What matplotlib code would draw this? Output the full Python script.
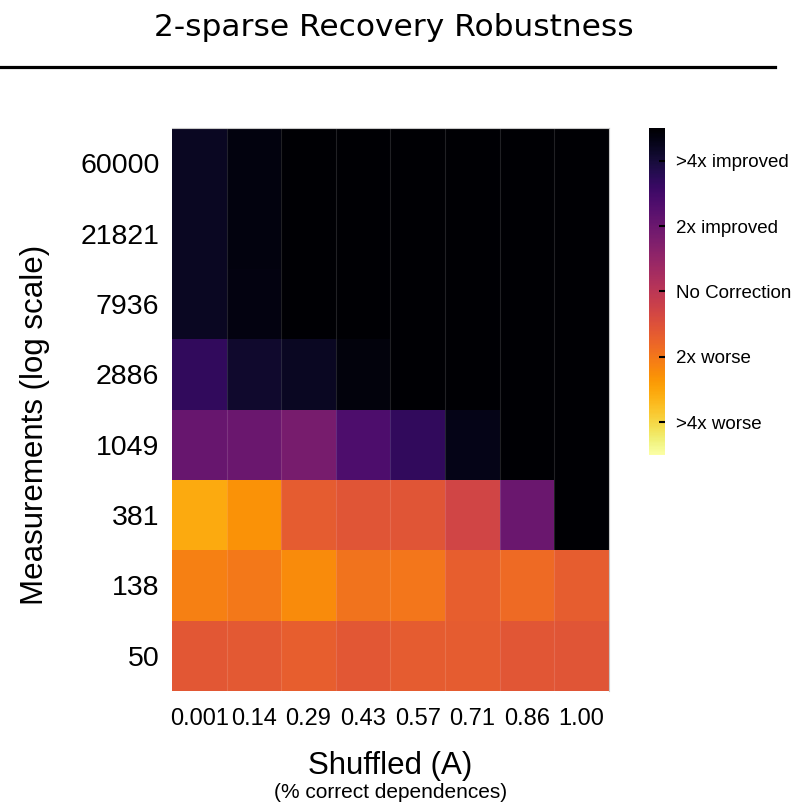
#!/usr/bin/env python

import matplotlib
matplotlib.use("Agg")
import matplotlib.pyplot as plt
import numpy as np

plt.rcParams['font.family'] = ['Liberation Sans', 'DejaVu Sans']

######## data: log2 of the error ratio (positive = correction helped)

shuffled = ["0.001", "0.14", "0.29", "0.43", "0.57", "0.71", "0.86", "1.00"]
measurements = ["50", "138", "381", "1049", "2886", "7936", "21821", "60000"]

row_50    = [-0.60, -0.62, -0.70, -0.60, -0.65, -0.65, -0.58, -0.55]
row_138   = [-1.10, -1.00, -1.22, -0.95, -0.98, -0.70, -0.85, -0.68]
row_381   = [-1.55, -1.30, -0.65, -0.55, -0.55, -0.30, 1.00, 2.50]
row_1049  = [1.05, 1.00, 0.85, 1.35, 1.68, 2.30, 2.50, 2.50]
row_2886  = [1.68, 2.10, 2.20, 2.40, 2.50, 2.50, 2.50, 2.50]
row_7936  = [2.20, 2.35, 2.50, 2.50, 2.50, 2.50, 2.50, 2.50]
row_21821 = [2.20, 2.38, 2.50, 2.50, 2.50, 2.50, 2.50, 2.50]
row_60000 = [2.20, 2.38, 2.50, 2.50, 2.50, 2.50, 2.50, 2.50]

cbar_ticks = [2, 1, 0, -1, -2]
cbar_labels = [">4x improved", "2x improved", "No Correction", "2x worse", ">4x worse"]

grid = np.array([row_50, row_138, row_381, row_1049,
                 row_2886, row_7936, row_21821, row_60000])

fig = plt.figure(figsize=(7.98, 8.05), dpi=100)

fig.text(0.494, 0.966, "2-sparse Recovery Robustness", family="DejaVu Sans",
         fontsize=22.5, ha="center", va="center")
fig.add_artist(plt.Line2D([0, 0.971], [0.9168, 0.9168], color="black", lw=2.3))

ax = fig.add_axes([0.2155, 0.1416, 0.5475, 0.6994])
mesh = ax.pcolormesh(grid, cmap="inferno_r", vmin=-2.5, vmax=2.5, linewidth=0)
# faint seams between the columns
ax.vlines(np.arange(1, len(shuffled)), 0, len(measurements),
          color="white", alpha=0.13, lw=0.8)

ax.set_xticks(np.arange(len(shuffled)) + 0.5)
ax.set_xticklabels(shuffled, fontsize=17)
ax.set_yticks(np.arange(len(measurements)) + 0.5)
ax.set_yticklabels(measurements, fontsize=20.5)
ax.tick_params(length=0)
ax.tick_params(axis="x", pad=12)
ax.tick_params(axis="y", pad=9)
for side in ["left", "bottom"]:
    ax.spines[side].set_visible(False)
for side in ["top", "right"]:
    ax.spines[side].set_color("#c8c8c8")
    ax.spines[side].set_linewidth(0.8)

ax.set_ylabel("Measurements (log scale)", fontsize=22.5)
ax.yaxis.set_label_coords(-0.28, 0.472)
ax.set_xlabel("Shuffled (A)", fontsize=22.5, labelpad=15)
fig.text(0.4895, 0.016, "(% correct dependences)", fontsize=15,
         ha="center", va="center")

cax = fig.add_axes([0.8133, 0.4348, 0.020, 0.4062])
cb = fig.colorbar(mesh, cax=cax, ticks=cbar_ticks)
cb.outline.set_visible(False)
cb.set_ticklabels(cbar_labels)
cax.tick_params(direction="in", length=4, width=1.5, labelsize=13.5, pad=8)

fig.savefig("out.png", dpi=100)
